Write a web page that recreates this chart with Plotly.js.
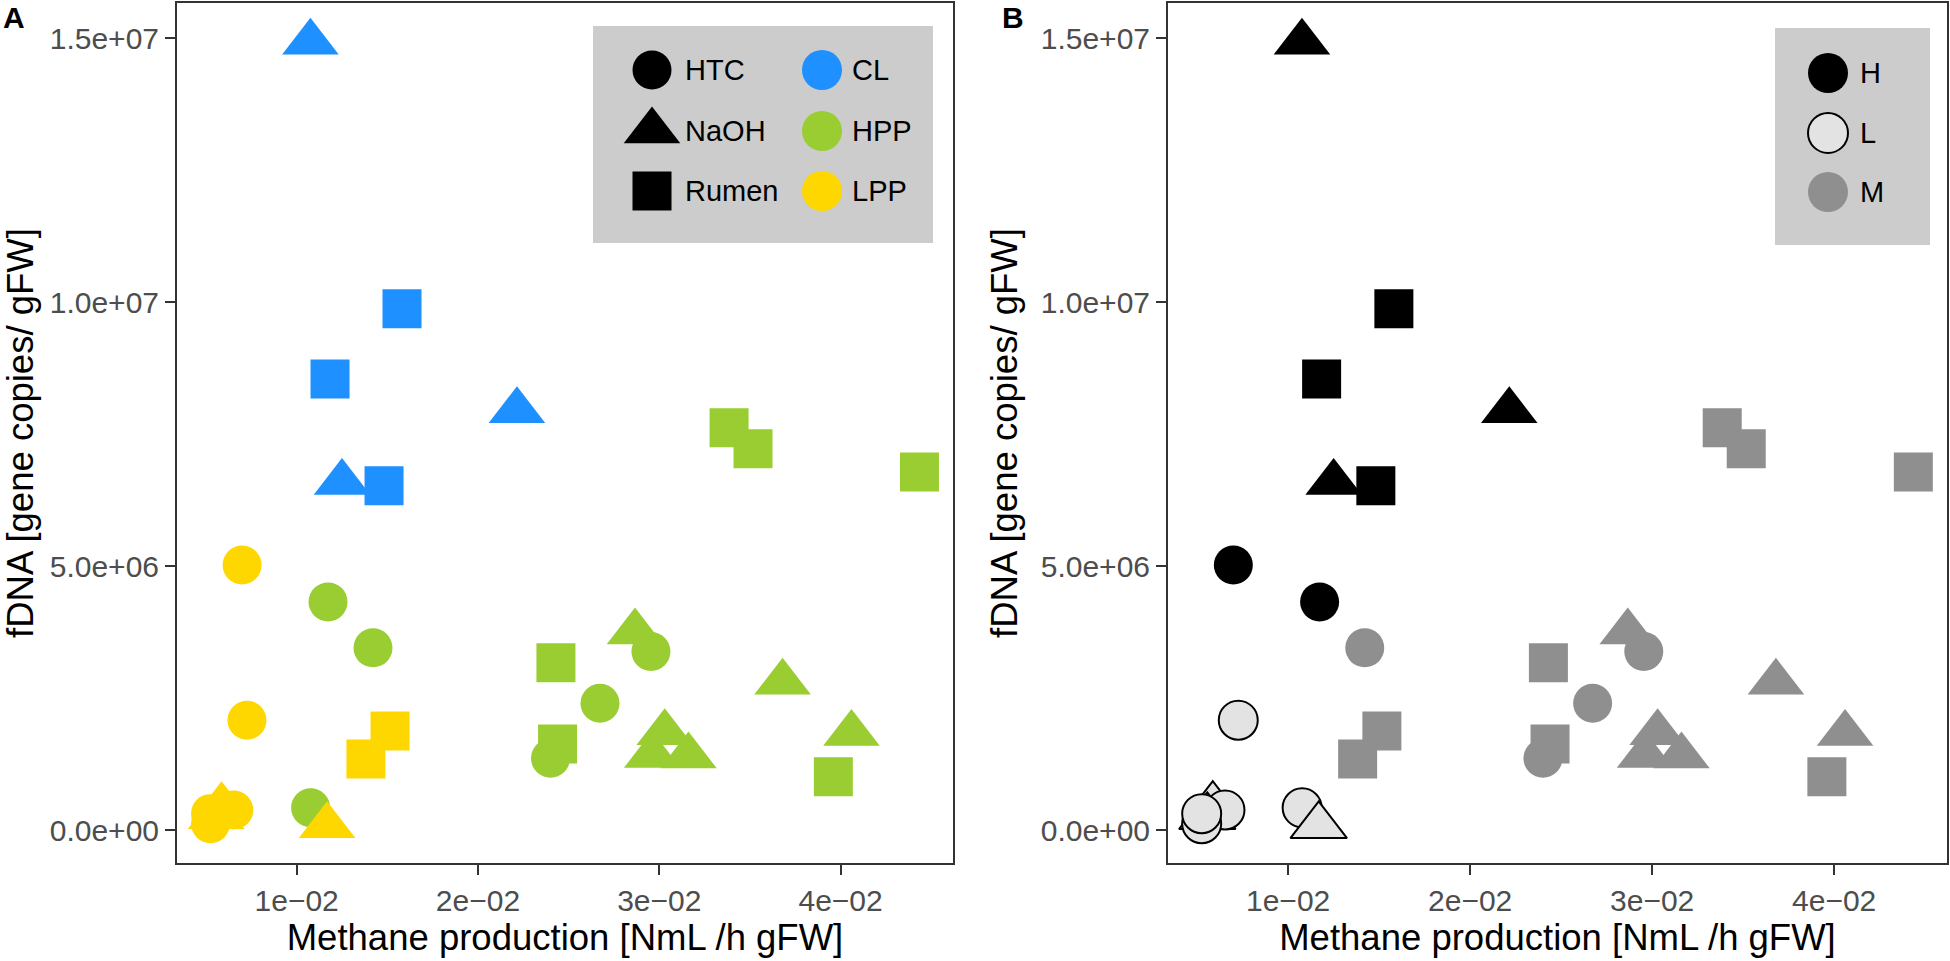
<!DOCTYPE html>
<html><head><meta charset="utf-8">
<script src="https://cdn.plot.ly/plotly-3.0.1.min.js"></script>
<style>html,body{margin:0;padding:0;background:#fff}</style>
</head><body><div id="chart" style="width:1950px;height:961px"></div>
<script>
// ---------- DATA ----------
const methane = [
  0.01076, 0.01581, 0.01184, 0.02215, 0.01250, 0.01482,
  0.01173, 0.01421, 0.03385, 0.03517, 0.04435, 0.02866, 0.02954, 0.02430, 0.03680,
  0.02673, 0.02439, 0.02400, 0.02961, 0.03030, 0.03161, 0.04060, 0.03960, 0.01077,
  0.00699, 0.00726, 0.01515, 0.01382, 0.00586, 0.00556, 0.00653, 0.00525, 0.00525, 0.01168
];
const fdna = [
  14.92e6, 9.87e6, 8.54e6, 7.94e6, 6.58e6, 6.52e6,
  4.32e6, 3.45e6, 7.62e6, 7.22e6, 6.78e6, 3.75e6, 3.38e6, 3.17e6, 2.80e6,
  2.40e6, 1.63e6, 1.36e6, 1.41e6, 1.84e6, 1.40e6, 1.83e6, 1.01e6, 0.42e6,
  5.02e6, 2.08e6, 1.875e6, 1.345e6, 0.46e6, 0.25e6, 0.38e6, 0.12e6, 0.31e6, 0.08e6
];
const treatment = [
  'NaOH','Rumen','Rumen','NaOH','NaOH','Rumen',
  'HTC','HTC','Rumen','Rumen','Rumen','NaOH','HTC','Rumen','NaOH',
  'HTC','Rumen','HTC','NaOH','NaOH','NaOH','NaOH','Rumen','HTC',
  'HTC','HTC','Rumen','Rumen','NaOH','NaOH','HTC','HTC','HTC','NaOH'
];
const inoculum = [
  'CL','CL','CL','CL','CL','CL',
  'HPP','HPP','HPP','HPP','HPP','HPP','HPP','HPP','HPP',
  'HPP','HPP','HPP','HPP','HPP','HPP','HPP','HPP','HPP',
  'LPP','LPP','LPP','LPP','LPP','LPP','LPP','LPP','LPP','LPP'
];
const level = [
  'H','H','H','H','H','H',
  'H','M','M','M','M','M','M','M','M',
  'M','M','M','M','M','M','M','M','L',
  'H','L','M','M','L','L','L','L','L','L'
];
const treatmentLevels = ['HTC','NaOH','Rumen'];
const inoculumLevels = ['CL','HPP','LPP'];
const levelLevels = ['H','L','M'];
const xTickVals = [0.01, 0.02, 0.03, 0.04];
const xTickText = ['1e\u221202','2e\u221202','3e\u221202','4e\u221202'];
const yTickVals = [0, 5e6, 1e7, 1.5e7];
const yTickText = ['0.0e+00','5.0e+06','1.0e+07','1.5e+07'];
const xTitle = 'Methane production [NmL /h gFW]';
const yTitle = 'fDNA [gene copies/ gFW]';
const panelLabels = ['A','B'];

// ---------- STYLE ----------
const W = 1950, H = 961;
const FONT = 'Liberation Sans, Arial, Helvetica, sans-serif';
const symbolOf = {HTC:'circle', NaOH:'triangle-up', Rumen:'square'};
const sizeOf = {HTC:39, NaOH:49, Rumen:39};
const colA = {CL:'#1E90FF', HPP:'#9ACD32', LPP:'#FFD700'};
const fillB = {H:'#000000', L:'#e3e3e3', M:'#8f8f8f'};
const lineWB = {H:0, L:2, M:0};
const XR = [0.0034, 0.0462], YR = [-0.625e6, 15.663e6];
const pA = {l:177, r:953}, pB = {l:1168, r:1947}, pT = 3, pBot = 863;

const traces = [];
traces.push({
  type:'scatter', mode:'markers', x:methane, y:fdna, xaxis:'x', yaxis:'y', showlegend:false, hoverinfo:'skip',
  marker:{symbol:treatment.map(t=>symbolOf[t]), size:treatment.map(t=>sizeOf[t]), opacity:1,
          color:inoculum.map(c=>colA[c]), line:{width:0}}
});
traces.push({
  type:'scatter', mode:'markers', x:methane, y:fdna, xaxis:'x2', yaxis:'y2', showlegend:false, hoverinfo:'skip',
  marker:{symbol:treatment.map(t=>symbolOf[t]), size:treatment.map(t=>sizeOf[t]), opacity:1,
          color:level.map(l=>fillB[l]), line:{width:level.map(l=>lineWB[l]), color:'#000000'}}
});

// legends (drawn on a pixel overlay axis)
const legRowsA = [70, 131, 191];
const legRowsB = [73, 133, 192];
const legA = {x0:593, x1:933, y0:26, y1:243, c1:652, t1:683, c2:822, t2:850};
const legB = {x0:1775, x1:1930, y0:28, y1:245, c1:1828, t1:1858};
traces.push({
  type:'scatter', mode:'markers', xaxis:'x3', yaxis:'y3', showlegend:false, hoverinfo:'skip',
  x:treatmentLevels.map(()=>legA.c1), y:treatmentLevels.map((_,i)=>legRowsA[i]),
  marker:{symbol:treatmentLevels.map(t=>symbolOf[t]), size:treatmentLevels.map(t=>sizeOf[t]), opacity:1,
          color:'#000000', line:{width:0}}
});
traces.push({
  type:'scatter', mode:'markers', xaxis:'x3', yaxis:'y3', showlegend:false, hoverinfo:'skip',
  x:inoculumLevels.map(()=>legA.c2), y:inoculumLevels.map((_,i)=>legRowsA[i]),
  marker:{symbol:'circle', size:40, opacity:1, color:inoculumLevels.map(c=>colA[c]), line:{width:0}}
});
traces.push({
  type:'scatter', mode:'markers', xaxis:'x3', yaxis:'y3', showlegend:false, hoverinfo:'skip',
  x:levelLevels.map(()=>legB.c1), y:levelLevels.map((_,i)=>legRowsB[i]),
  marker:{symbol:'circle', size:40, opacity:1, color:levelLevels.map(l=>fillB[l]),
          line:{width:levelLevels.map(l=>lineWB[l]), color:'#000000'}}
});

const annotations = [];
const legText = (txt, x, y) => ({xref:'x3', yref:'y3', x, y, text:txt, showarrow:false, xanchor:'left', yanchor:'middle',
  font:{family:FONT, size:29, color:'#000000'}});
treatmentLevels.forEach((t,i)=>annotations.push(legText(t, legA.t1, legRowsA[i])));
inoculumLevels.forEach((t,i)=>annotations.push(legText(t, legA.t2, legRowsA[i])));
levelLevels.forEach((t,i)=>annotations.push(legText(t, legB.t1, legRowsB[i])));
[[panelLabels[0], 1], [panelLabels[1], 1000]].forEach(([t,x])=>annotations.push({
  xref:'x3', yref:'y3', x, y:17, text:'<b>'+t+'</b>', showarrow:false, xanchor:'left', yanchor:'middle',
  font:{family:FONT, size:30, color:'#000000'}}));

const shapes = [legA, legB].map(L=>({type:'rect', xref:'x3', yref:'y3', x0:L.x0, x1:L.x1, y0:L.y0, y1:L.y1,
  fillcolor:'#cccccc', line:{width:0}, layer:'below'}));

function xa(dom, anchor){
  return {domain:dom, anchor, range:XR, tickvals:xTickVals, ticktext:xTickText, ticks:'outside', ticklen:10,
    tickwidth:2, tickcolor:'#333333', showline:true, linecolor:'#333333', linewidth:2, mirror:true,
    showgrid:false, zeroline:false, automargin:false, fixedrange:true,
    tickfont:{family:FONT, size:30, color:'#4d4d4d'},
    title:{text:xTitle, font:{family:FONT, size:36.5, color:'#000000'}, standoff:5}};
}
function ya(anchor){
  return {domain:[(H-pBot)/H, (H-pT)/H], anchor, range:YR, tickvals:yTickVals, ticktext:yTickText, ticks:'outside',
    ticklen:10, tickwidth:2, tickcolor:'#333333', showline:true, linecolor:'#333333', linewidth:2, mirror:true,
    showgrid:false, zeroline:false, automargin:false, fixedrange:true,
    tickfont:{family:FONT, size:30, color:'#4d4d4d'},
    title:{text:yTitle, font:{family:FONT, size:36.5, color:'#000000'}, standoff:12}};
}
const layout = {
  width:W, height:H, margin:{l:0,r:0,t:0,b:0}, paper_bgcolor:'#ffffff', plot_bgcolor:'rgba(0,0,0,0)',
  showlegend:false, font:{family:FONT},
  xaxis: xa([pA.l/W, pA.r/W], 'y'),
  yaxis: ya('x'),
  xaxis2: xa([pB.l/W, pB.r/W], 'y2'),
  yaxis2: ya('x2'),
  xaxis3: {domain:[0,1], anchor:'y3', range:[0,W], visible:false, fixedrange:true},
  yaxis3: {domain:[0,1], anchor:'x3', range:[H,0], visible:false, fixedrange:true},
  shapes, annotations
};
Plotly.newPlot('chart', traces, layout, {staticPlot:true, displayModeBar:false});
</script></body></html>
